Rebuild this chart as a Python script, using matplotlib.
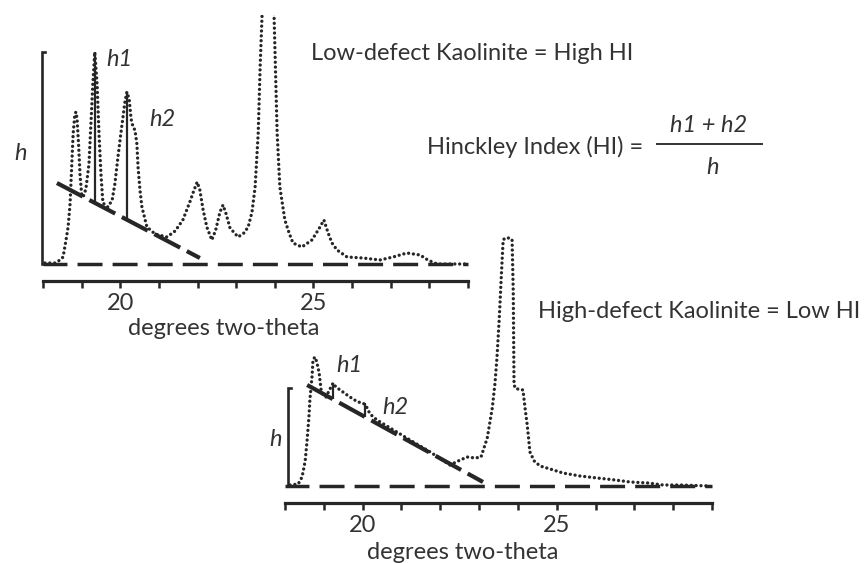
import matplotlib
matplotlib.use("Agg")
import numpy as np
import matplotlib.pyplot as plt
from matplotlib.lines import Line2D

W, H = 864, 563
INK = "#262626"
TXT = "#333333"

# Low-defect kaolinite trace (degrees two-theta, counts above background)
low_theta = [18.05, 18.31, 18.44, 18.52, 18.60, 18.65, 18.70, 18.74, 18.78, 18.82,
             18.85, 18.88, 18.92, 18.96, 19.00, 19.04, 19.11, 19.19, 19.24, 19.29,
             19.34, 19.40, 19.45, 19.50, 19.55, 19.68, 19.79, 19.86, 19.94, 20.02,
             20.07, 20.12, 20.17, 20.23, 20.28, 20.33, 20.38, 20.43, 20.46, 20.51,
             20.56, 20.69, 20.90, 21.21, 21.42, 21.62, 21.80, 21.91, 21.99, 22.06,
             22.14, 22.24, 22.37, 22.47, 22.58, 22.66, 22.74, 22.84, 23.05, 23.20,
             23.31, 23.41, 23.49, 23.57, 23.62, 23.67, 23.82, 23.98, 24.06, 24.13,
             24.26, 24.37, 24.47, 24.70, 24.96, 25.09, 25.17, 25.27, 25.38, 25.48,
             25.61, 25.87, 26.28, 26.72, 27.06, 27.42, 27.76, 27.96, 28.20, 28.53,
             28.97]
low_counts = [1, 1, 4, 7, 25, 37, 60, 95, 130, 148,
              152, 146, 120, 88, 70, 67, 75, 100, 140, 180,
              212, 180, 130, 90, 61, 57, 64, 80, 107, 132,
              147, 162, 172, 165, 145, 137, 134, 120, 97, 74,
              57, 37, 30, 27, 33, 44, 62, 74, 82, 74,
              55, 37, 24, 34, 52, 59, 50, 36, 27, 31,
              37, 52, 77, 131, 197, 249, 330, 249, 131, 77,
              44, 31, 21, 17, 24, 32, 37, 44, 31, 21,
              14, 7, 6, 4, 7, 11, 9, 4, 0, 0,
              0]

# High-defect kaolinite trace
high_theta = [18.13, 18.34, 18.44, 18.52, 18.57, 18.62, 18.64, 18.70, 18.72, 18.77,
              18.82, 18.88, 18.93, 18.98, 19.06, 19.13, 19.24, 19.31, 19.42, 19.60,
              19.75, 19.88, 20.01, 20.09, 20.19, 20.37, 20.71, 21.22, 21.74, 22.25,
              22.46, 22.69, 22.90, 23.05, 23.21, 23.34, 23.41, 23.46, 23.52, 23.57,
              23.62, 23.67, 23.80, 23.85, 23.88, 23.90, 23.95, 24.03, 24.13, 24.19,
              24.24, 24.31, 24.42, 24.57, 24.83, 25.16, 25.60, 26.04, 26.51, 26.89,
              27.36, 27.74, 28.18, 28.95]
high_counts = [1, 2, 9, 25, 46, 71, 86, 111, 126, 129,
               124, 113, 96, 91, 89, 95, 103, 99, 96, 91,
               87, 84, 83, 80, 72, 66, 58, 46, 34, 21,
               25, 29, 28, 29, 48, 78, 103, 128, 168, 208,
               246, 248, 248, 246, 194, 101, 97, 97, 96, 76,
               61, 34, 25, 20, 17, 13, 10, 8, 6, 4,
               3, 1, 1, 0]

# background tangent lines drawn under h1/h2
low_tangent_theta, low_tangent_counts = [18.36, 22.06], [81, 6]
high_tangent_theta, high_tangent_counts = [18.57, 23.10], [101, 4]

# h1 / h2 peak positions and heights, h bracket height
low_peaks_theta, low_peaks_counts = [19.34, 20.17], [212, 172]
high_peaks_theta, high_peaks_counts = [19.24, 20.06], [103, 83]
low_h, high_h = 212, 98

tick_positions = list(range(18, 30))
tick_labels = ["20" if t == 20 else "25" if t == 25 else "" for t in tick_positions]

plt.rcParams["font.family"] = ["Lato", "DejaVu Sans"]
FS = 17


def box(x0, y0, x1, y1):
    # pixel box (top-left origin) -> figure fraction rect
    return [x0 / W, 1 - y1 / H, (x1 - x0) / W, (y1 - y0) / H]


def pt(x, y):
    return x / W, 1 - y / H


def draw_panel(ax, theta, counts, tan_t, tan_c, pk_t, pk_c, h, bracket_x, ylim):
    ax.set_xlim(18, 29)
    ax.set_ylim(*ylim)
    ax.patch.set_alpha(0)
    for s in ("top", "left", "right"):
        ax.spines[s].set_visible(False)
    ax.spines["bottom"].set_linewidth(2.3)
    ax.spines["bottom"].set_color(INK)
    ax.set_yticks([])
    ax.set_xticks(tick_positions)
    ax.set_xticklabels(tick_labels)
    ax.tick_params(axis="x", length=5, width=1.8, direction="out", pad=4,
                   labelsize=FS, color=INK, labelcolor=TXT)

    # background level
    ax.axhline(0, color=INK, lw=2.5, ls=(0.3, (7.2, 2.9)), clip_on=False)
    # diffraction trace, dotted
    ax.plot(theta, counts, color=INK, lw=2.4, ls=(0, (0.01, 1.45)),
            dash_capstyle="round")
    # tangent under the h1/h2 doublet
    ax.plot(tan_t, tan_c, color=INK, lw=3.0, ls=(0, (7, 1.8)))
    base = np.interp(pk_t, tan_t, tan_c)
    ax.vlines(pk_t, base, pk_c, color=INK, lw=1.6)
    # h bracket
    ax.plot([bracket_x + 0.08, bracket_x, bracket_x, bracket_x + 0.08],
            [h, h, 0, 0], color=INK, lw=1.9, clip_on=False,
            solid_joinstyle="miter")


fig = plt.figure(figsize=(W / 100, H / 100), dpi=100)
fig.patch.set_facecolor("white")

ax_low = fig.add_axes(box(43, 15, 468, 281))
draw_panel(ax_low, low_theta, low_counts, low_tangent_theta, low_tangent_counts,
           low_peaks_theta, low_peaks_counts, low_h, 17.97, (-17, 249))
ax_low.text(0.424, -0.177, "degrees two-theta", transform=ax_low.transAxes,
            ha="center", va="center", fontsize=FS, color=TXT)

ax_high = fig.add_axes(box(285, 230, 712, 503))
draw_panel(ax_high, high_theta, high_counts, high_tangent_theta, high_tangent_counts,
           high_peaks_theta, high_peaks_counts, high_h, 18.08, (-17, 256))
ax_high.text(0.417, -0.18, "degrees two-theta", transform=ax_high.transAxes,
             ha="center", va="center", fontsize=FS, color=TXT)

# peak labels
for x, y, s in [(21, 153, "h"), (119, 60, "h1"), (162, 119, "h2"),
                (276, 440, "h"), (349, 366, "h1"), (395, 407, "h2")]:
    fig.text(*pt(x, y), s, ha="center", va="center", fontsize=FS,
             style="italic", color=TXT)

fig.text(*pt(472, 54), "Low-defect Kaolinite = High HI", ha="center", va="center",
         fontsize=FS, color=TXT)
fig.text(*pt(699, 311), "High-defect Kaolinite = Low HI", ha="center", va="center",
         fontsize=FS, color=TXT)

# Hinckley index formula
fig.text(*pt(643, 147), "Hinckley Index (HI) =", ha="right", va="center",
         fontsize=FS, color=TXT)
fig.text(*pt(709, 125), "h1 + h2", ha="center", va="center", fontsize=FS,
         style="italic", color=TXT)
fig.text(*pt(713, 168), "h", ha="center", va="center", fontsize=FS,
         style="italic", color=TXT)
x0, y0 = pt(657, 144)
x1, _ = pt(762, 144)
fig.add_artist(Line2D([x0, x1], [y0, y0], transform=fig.transFigure,
                      color=TXT, lw=1.4))

fig.savefig("out.png", dpi=100, facecolor="white")
